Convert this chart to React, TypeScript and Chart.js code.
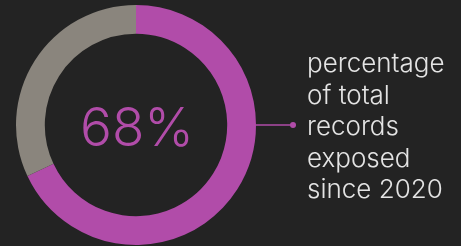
import React, { useEffect, useRef } from "react";
import { Chart, registerables } from "chart.js";

Chart.register(...registerables);

const categories = ["Exposed", "Other"];
const values = [68, 32];
const colors = ["#b14ca9", "#8a857d"];
const labelLines = ["percentage", "of total", "records", "exposed", "since 2020"];

const BG = "#232323";

export default function App() {
  const ref = useRef<HTMLCanvasElement | null>(null);

  useEffect(() => {
    const canvas = ref.current;
    if (!canvas) return;
    const annotate = {
      id: "annotate",
      afterDraw(chart: any) {
        const ctx = chart.ctx as CanvasRenderingContext2D;
        const arc = chart.getDatasetMeta(0).data[0] as any;
        const { x, y, outerRadius } = arc.getProps(["x", "y", "outerRadius"], true);
        ctx.save();
        // center value
        ctx.fillStyle = colors[0];
        ctx.font = "300 53px Inter";
        ctx.textAlign = "center";
        ctx.textBaseline = "alphabetic";
        ctx.fillText(`${values[0]}%`, x + 1, y + 21);
        // connector
        const x0 = x + outerRadius;
        const x1 = x0 + 37;
        ctx.strokeStyle = colors[0];
        ctx.lineWidth = 1.5;
        ctx.beginPath();
        ctx.moveTo(x0, y);
        ctx.lineTo(x1, y);
        ctx.stroke();
        ctx.fillStyle = colors[0];
        ctx.beginPath();
        ctx.arc(x1, y, 3, 0, Math.PI * 2);
        ctx.fill();
        // label
        ctx.fillStyle = "#e4e4e4";
        ctx.font = "300 26px Inter";
        ctx.textAlign = "left";
        const lh = 31.5;
        const mid = (labelLines.length - 1) / 2;
        labelLines.forEach((t, i) => {
          ctx.fillText(t, x1 + 14, y + 10 + (i - mid) * lh);
        });
        ctx.restore();
      },
    };
    const chart = new Chart(canvas, {
      type: "doughnut",
      data: {
        labels: categories,
        datasets: [
          {
            data: values,
            backgroundColor: colors,
            borderWidth: 0,
          },
        ],
      },
      options: {
        animation: false,
        responsive: false,
        maintainAspectRatio: false,
        cutout: "76%",
        layout: { padding: { left: 16, right: 205, top: 5, bottom: 1 } },
        plugins: { legend: { display: false }, tooltip: { enabled: false } },
      },
      plugins: [annotate],
    });
    return () => chart.destroy();
  }, []);

  return (
    <div
      style={{
        position: "fixed",
        left: 0,
        top: 0,
        width: 461,
        height: 246,
        background: BG,
      }}
    >
      <canvas ref={ref} width={461} height={246} style={{ width: 461, height: 246, display: "block" }} />
    </div>
  );
}
